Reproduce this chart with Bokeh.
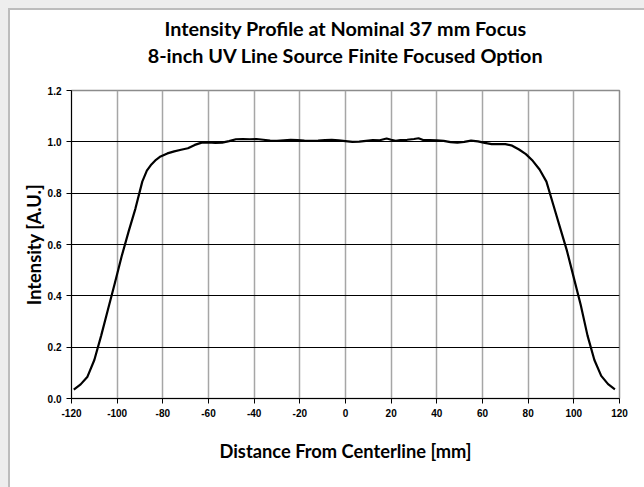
from bokeh.plotting import figure
from bokeh.models import Range1d, FixedTicker, NumeralTickFormatter, Title
from bokeh.embed import file_html
from bokeh.resources import INLINE

# Data
distance_mm = [-119, -116, -113, -110, -107, -104, -101, -98, -95, -92, -89, -87, -85, -83, -81,
               -78, -75, -72, -69, -66, -63, -60, -57, -54, -51, -48, -45, -42, -39, -36, -33,
               -30, -27, -24, -21, -18, -15, -12, -9, -6, -3, 0, 3, 6, 9, 12, 15, 18, 20, 22,
               24, 27, 30, 32, 34, 37, 40, 43, 46, 49, 52, 55, 58, 61, 64, 67, 70, 73, 76, 79,
               82, 85, 88, 91, 94, 97, 100, 103, 106, 109, 112, 115, 118]
intensity = [0.035, 0.055, 0.085, 0.15, 0.245, 0.348, 0.45, 0.555, 0.65, 0.74, 0.845, 0.888, 0.912,
             0.93, 0.943, 0.955, 0.963, 0.969, 0.975, 0.988, 0.997, 0.998, 0.996, 0.997, 1.003,
             1.010, 1.011, 1.010, 1.011, 1.008, 1.005, 1.004, 1.006, 1.008, 1.007, 1.005, 1.004,
             1.005, 1.007, 1.008, 1.006, 1.003, 1.000, 1.001, 1.004, 1.007, 1.006, 1.013, 1.008,
             1.004, 1.007, 1.008, 1.011, 1.014, 1.007, 1.007, 1.006, 1.004, 0.999, 0.997, 1.000,
             1.005, 1.002, 0.996, 0.991, 0.991, 0.991, 0.985, 0.970, 0.952, 0.926, 0.892, 0.845,
             0.755, 0.665, 0.575, 0.470, 0.365, 0.245, 0.150, 0.088, 0.056, 0.036]

x_ticks = [-120, -100, -80, -60, -40, -20, 0, 20, 40, 60, 80, 100, 120]
y_ticks = [0.0, 0.2, 0.4, 0.6, 0.8, 1.0, 1.2]

title_line1 = "Intensity Profile at Nominal 37 mm Focus"
title_line2 = "8-inch UV Line Source Finite Focused Option"
x_label = "Distance From Centerline [mm]"
y_label = "Intensity [A.U.]"

TITLE_FONT = "Lato"
TICK_FONT = "Liberation Sans"

p = figure(width=634, height=477, output_backend="svg", toolbar_location=None,
           x_range=Range1d(-120, 120), y_range=Range1d(0, 1.2),
           min_border_left=61, min_border_right=25, min_border_top=80, min_border_bottom=89,
           margin=(10, 0, 0, 10))

p.styles = {"box-shadow": "0 0 0 2px #bdbdbd, 0 0 0 14px #eeeeee"}

p.title = None
spacer = Title(text=" ", text_font_size="1px", standoff=21)
t2 = Title(text=title_line2, align="center", text_font=TITLE_FONT, text_font_size="19.8px",
           text_font_style="bold", text_color="#000000", standoff=0)
t1 = Title(text=title_line1, align="center", text_font=TITLE_FONT, text_font_size="19.8px",
           text_font_style="bold", text_color="#000000", standoff=1)
p.add_layout(spacer, "above")
p.add_layout(t2, "above")
p.add_layout(t1, "above")

p.line(distance_mm, intensity, line_color="#000000", line_width=2.2)

p.background_fill_color = "#ffffff"
p.border_fill_color = "#ffffff"
p.outline_line_color = "#8c8c8c"
p.outline_line_width = 1.5

p.xaxis.ticker = FixedTicker(ticks=x_ticks)
p.yaxis.ticker = FixedTicker(ticks=y_ticks)
p.xaxis.formatter = NumeralTickFormatter(format="0")
p.yaxis.formatter = NumeralTickFormatter(format="0.0")

for ax in (p.xaxis[0], p.yaxis[0]):
    ax.axis_line_color = "#000000"
    ax.axis_line_width = 1
    ax.major_tick_line_color = "#000000"
    ax.major_tick_out = 5
    ax.major_tick_in = 0
    ax.minor_tick_line_color = None
    ax.major_label_text_font = TICK_FONT
    ax.major_label_text_font_style = "bold"
    ax.major_label_text_font_size = "10px"
    ax.major_label_text_color = "#000000"
    ax.axis_label_text_font = TITLE_FONT
    ax.axis_label_text_font_style = "bold"
    ax.axis_label_text_font_size = "18.3px"
    ax.axis_label_text_color = "#000000"

p.xaxis.axis_label = x_label
p.yaxis.axis_label = y_label
p.xaxis.axis_label_standoff = 20
p.yaxis.axis_label_standoff = 0
p.xaxis.major_label_standoff = 5
p.yaxis.major_label_standoff = 5

p.xgrid.grid_line_color = "#a6a6a6"
p.xgrid.grid_line_width = 1.5
p.ygrid.grid_line_color = "#000000"
p.ygrid.grid_line_width = 1

open("out.html", "w").write(file_html(p, INLINE))
